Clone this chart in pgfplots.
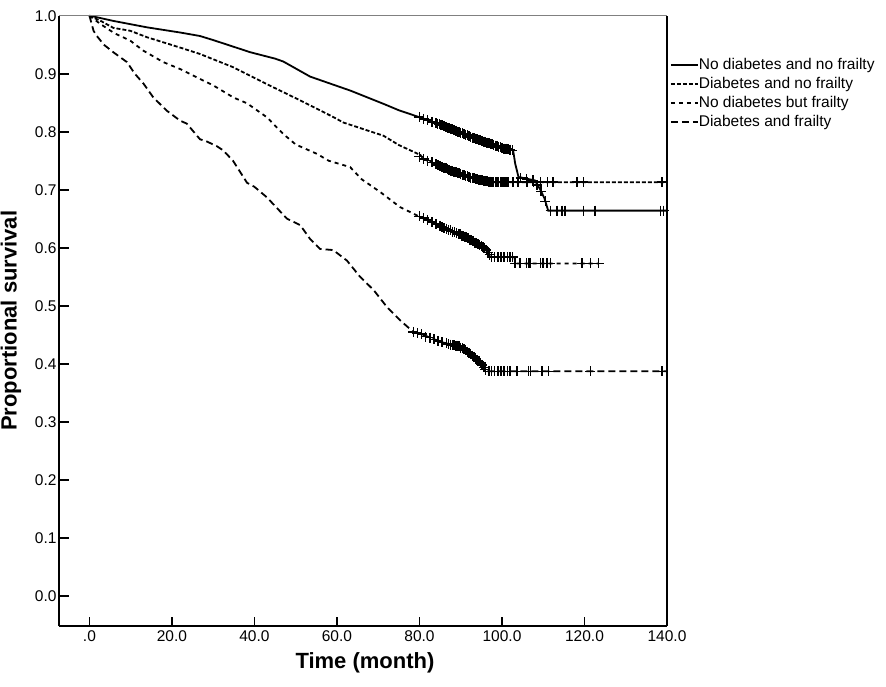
\documentclass[border=0pt]{standalone}
\usepackage{pgfplots}
\pgfplotsset{compat=1.18}
\usepackage{fontspec}
\setmainfont{Liberation Sans}
\begin{document}
\begin{tikzpicture}
\path[use as bounding box] (0,0) rectangle (443pt,343pt);
\begin{axis}[
 at={(29.65pt,30pt)}, anchor=south west,
 scale only axis, width=303.85pt, height=305.15pt,
 xmin=-7.3, xmax=140, ymin=-0.052, ymax=1.0,
 enlargelimits=false, clip=false,
 axis lines=left, x axis line style={-}, y axis line style={-},
 axis line style={line width=1pt, black},
 tick align=inside, major tick length=4.75pt,
 tick style={line width=0.8pt, black},
 xtick={0,20,40,60,80,100,120,140},
 xticklabels={.0,20.0,40.0,60.0,80.0,100.0,120.0,140.0},
 ytick={0,0.1,0.2,0.3,0.4,0.5,0.6,0.7,0.8,0.9,1.0},
 yticklabels={0.0,0.1,0.2,0.3,0.4,0.5,0.6,0.7,0.8,0.9,1.0},
 /pgf/number format/assume math mode=true,
 ticklabel style={font=\fontsize{7.75}{9}\selectfont},
 xticklabel style={inner sep=2pt},
 yticklabel style={inner sep=1.2pt},
 xlabel={Time (month)}, ylabel={Proportional survival},
 label style={font=\fontsize{11}{13}\selectfont\bfseries},
 xlabel style={at={(axis description cs:0.503,-0.0606)}, anchor=center},
 ylabel style={at={(axis description cs:-0.0795,0.5)}, anchor=center},
 legend style={draw=none, fill=none, at={(axis description cs:1.0,0.931)}, anchor=north west,
   xshift=1.5pt, inner sep=0pt, outer sep=0pt, row sep=2.35pt,
   font=\fontsize{7.75}{9}\selectfont,
   nodes={inner sep=0pt, text height=5.6pt, text depth=1.6pt, anchor=west},
   /tikz/every even column/.append style={column sep=3pt}},
 legend cell align=left,
 legend image code/.code={\draw[#1] (0pt,0pt) -- (13.5pt,0pt);},
 marks/.style={forget plot, only marks, mark=+, mark size=2.5pt, mark options={line width=0.75pt, black}},
]
% Curves
\addplot[black, line width=0.9pt] table {
0 1.0
2 0.997
5.8 0.991
13.9 0.980
22 0.971
26.8 0.965
30 0.958
39 0.937
45 0.926
47 0.921
50 0.909
53.5 0.895
63.2 0.871
71.3 0.848
75 0.837
80 0.825
86.6 0.808
90.7 0.796
94.7 0.785
99.6 0.773
102.7 0.768
103.2 0.745
104 0.722
108 0.716
109.3 0.700
110.3 0.685
111.2 0.664
140 0.664
};
\addlegendentry{No diabetes and no frailty}
\addplot[black, line width=0.9pt, dash pattern=on 2pt off 1pt] table {
0 1.0
3 0.990
5.8 0.979
9.9 0.974
13.9 0.963
22 0.945
26.8 0.934
34.9 0.911
43 0.882
51.1 0.854
59.2 0.825
61.5 0.816
71.3 0.793
75 0.777
80.2 0.760
81 0.753
86.6 0.736
90.7 0.725
94.7 0.716
98 0.713
140 0.713
};
\addlegendentry{Diabetes and no frailty}
\addplot[black, line width=0.9pt, dash pattern=on 2pt off 2pt] table {
0 1.0
2.6 0.986
6 0.970
9.9 0.957
13 0.940
17.9 0.920
22 0.908
26.8 0.891
30 0.880
34.9 0.859
38.2 0.849
43 0.825
47 0.796
50 0.778
55.1 0.762
58 0.750
63.2 0.739
66 0.718
70.5 0.696
75.3 0.670
80.2 0.653
87.4 0.630
91.5 0.618
95.5 0.601
97.1 0.587
97.5 0.584
103 0.584
103.3 0.573
123.5 0.573
};
\addlegendentry{No diabetes but frailty}
\addplot[black, line width=0.9pt, dash pattern=on 3.5pt off 2pt] table {
0 1.0
1 0.974
1.8 0.965
3.5 0.950
5.8 0.937
9.1 0.920
11 0.900
13.1 0.883
15.5 0.859
18.8 0.836
22 0.819
23.6 0.814
26.8 0.787
28.5 0.783
30.9 0.775
32.4 0.768
34.8 0.750
38.2 0.712
40 0.705
43 0.687
47.9 0.650
51.1 0.639
53.5 0.615
55.9 0.598
59.1 0.596
62.4 0.578
65.6 0.550
68.9 0.527
72.1 0.498
75.3 0.475
78.5 0.455
80.2 0.452
85 0.438
89.9 0.429
93.1 0.412
95.5 0.395
96.3 0.387
140 0.387
};
\addlegendentry{Diabetes and frailty}
% Censoring marks
\addplot[marks] table {
80 0.825
81 0.822
82 0.820
83 0.817
84 0.815
84.4 0.814
84.8 0.813
85.2 0.812
85.6 0.811
86 0.810
86.4 0.808
86.8 0.807
87.2 0.806
87.6 0.805
88 0.804
88.4 0.803
88.8 0.802
89.2 0.800
89.6 0.799
90 0.798
90.4 0.797
90.8 0.796
91.2 0.795
91.6 0.794
92 0.792
92.4 0.791
92.8 0.790
93.2 0.789
93.6 0.788
94 0.787
94.4 0.786
94.8 0.785
95.2 0.784
95.6 0.783
96 0.782
96.4 0.781
96.8 0.780
97.2 0.779
97.6 0.778
98 0.777
98.4 0.776
98.8 0.775
99.2 0.774
99.6 0.773
100 0.772
100.5 0.771
101 0.771
101.5 0.770
102 0.769
102.5 0.768
104.5 0.720
106 0.718
107.5 0.716
108.5 0.708
109.5 0.697
110.5 0.680
111.8 0.664
113.3 0.664
114.5 0.664
115.3 0.664
119.8 0.664
122.6 0.664
138.4 0.664
139.2 0.664
};
\addplot[marks] table {
80 0.757
81 0.753
82 0.750
83 0.747
84 0.744
84.5 0.742
85 0.741
85.5 0.739
86 0.738
86.4 0.737
86.8 0.735
87.2 0.734
87.6 0.733
88 0.732
88.4 0.731
88.8 0.730
89.2 0.729
89.6 0.728
90 0.727
90.4 0.726
90.8 0.725
91.2 0.724
91.6 0.723
92 0.722
92.4 0.721
92.8 0.720
93.2 0.720
93.6 0.719
94 0.718
94.4 0.717
94.8 0.716
95.2 0.716
95.6 0.715
96 0.715
96.4 0.715
96.8 0.714
97.2 0.714
97.6 0.713
98 0.713
98.4 0.713
98.8 0.713
99.2 0.713
99.6 0.713
100 0.713
100.5 0.713
101 0.713
101.5 0.713
102.7 0.713
103.9 0.713
106.1 0.713
107.6 0.713
109.3 0.713
111.0 0.713
112.4 0.713
118.2 0.713
119.7 0.713
138.8 0.713
};
\addplot[marks] table {
80 0.654
81 0.651
82 0.648
83 0.644
84 0.641
85 0.638
85.5 0.636
86 0.634
86.5 0.633
87 0.631
87.5 0.630
88 0.628
88.5 0.627
89 0.625
89.4 0.624
89.8 0.623
90.2 0.621
90.6 0.620
91 0.619
91.4 0.618
91.8 0.616
92.2 0.614
92.6 0.613
93 0.611
93.4 0.609
93.8 0.608
94.2 0.606
94.6 0.605
95 0.603
95.4 0.601
95.8 0.599
96.2 0.596
96.6 0.592
97 0.588
97.5 0.584
98.2 0.584
99 0.584
99.8 0.584
100.5 0.584
101.3 0.584
102 0.584
102.6 0.584
103.2 0.573
104.4 0.573
106 0.573
106.4 0.573
106.8 0.573
109.3 0.573
110 0.573
110.9 0.573
111.7 0.573
119.4 0.573
121.4 0.573
123.4 0.573
};
\addplot[marks] table {
78.5 0.455
79.5 0.453
80.5 0.451
81.5 0.447
82.5 0.445
83.5 0.442
84.5 0.439
85.5 0.437
86.5 0.435
87 0.434
87.5 0.433
88 0.432
88.4 0.432
88.8 0.431
89.2 0.431
89.6 0.430
90 0.428
90.4 0.427
90.8 0.425
91.2 0.423
91.6 0.421
92 0.419
92.4 0.417
92.8 0.414
93.2 0.412
93.6 0.409
94 0.406
94.4 0.404
94.8 0.401
95.2 0.398
95.6 0.394
96 0.390
96.8 0.387
97.5 0.387
98.2 0.387
99 0.387
99.8 0.387
100.5 0.387
101.3 0.387
102 0.387
103.6 0.387
106.4 0.387
106.9 0.387
109.7 0.387
111.3 0.387
121.4 0.387
138.8 0.387
};
\draw[gray, line width=0.8pt] (rel axis cs:0,1) -- (rel axis cs:1,1);
\draw[black, line width=0.6pt] (rel axis cs:1,0) -- (rel axis cs:1,1);
\end{axis}
\end{tikzpicture}
\end{document}
